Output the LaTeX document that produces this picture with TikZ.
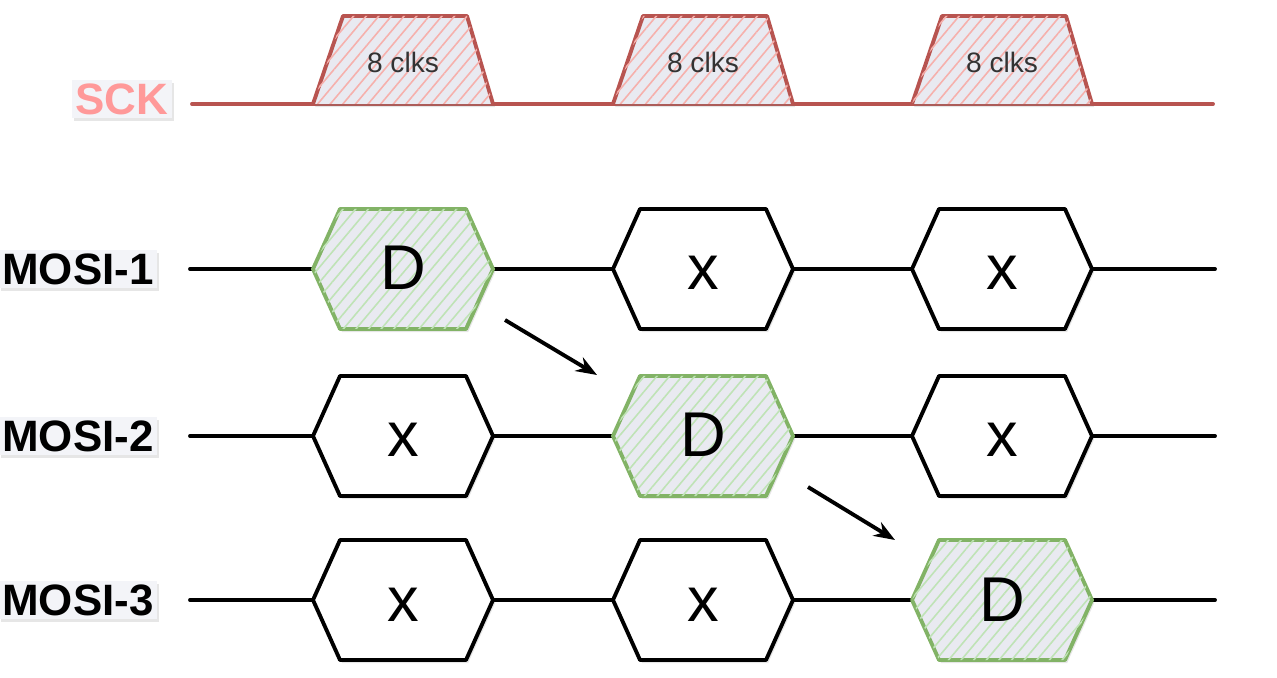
\documentclass[tikz,border=0pt]{standalone}
\usepackage{fontspec}
\setmainfont{Liberation Sans}
\usetikzlibrary{positioning,patterns.meta,shadows,arrows.meta}

\definecolor{sckred}{HTML}{B85450}
\definecolor{sckhatch}{HTML}{F6B0AC}
\definecolor{sckpink}{HTML}{FF9999}
\definecolor{dgreen}{HTML}{82B366}
\definecolor{dhatch}{HTML}{BFE3B6}
\definecolor{tint}{HTML}{E9EAF1}
\definecolor{lblbg}{HTML}{F3F4F8}

\tikzset{
  wire/.style={line width=2.2pt, line cap=round, line join=round},
  soft/.style={drop shadow={opacity=0.2, shadow xshift=1.2pt, shadow yshift=-1.8pt}},
  lbl/.style={font=\fontsize{25}{25}\selectfont\bfseries, fill=lblbg, inner sep=2pt, soft},
  clk/.style={font=\fontsize{16}{16}\selectfont, text=black!80},
  burst/.style={wire, draw=sckred, fill=tint, soft,
    postaction={pattern={Lines[angle=50, distance=5.5pt, line width=0.9pt]}, pattern color=sckhatch}},
  xcell/.style={wire, draw=black, fill=white, soft},
  dcell/.style={wire, draw=dgreen, fill=tint, soft,
    postaction={pattern={Lines[angle=50, distance=5.5pt, line width=0.9pt]}, pattern color=dhatch}},
  celltxt/.style={font=\fontsize{36}{36}\selectfont, anchor=base, inner sep=0pt},
  hop/.style={line width=2.2pt, -{Stealth[length=12pt, width=9pt]}},
}

% #1 name, #2 left x, #3 row y, #4 style, #5 text
\newcommand{\hexcell}[5]{%
  \draw[#4] (#2,#3) -- ++(27,-60) -- ++(126,0) -- ++(27,60) -- ++(-27,60) -- ++(-126,0) -- cycle;
  \node[celltxt] (#1) at (#2+90,#3+21) {#5};
}

\begin{document}
\begin{tikzpicture}[x=0.02cm, y=-0.02cm]
\useasboundingbox (0,0) rectangle (1277,678);

% clock
\node[lbl, text=sckpink] (sck) at (122,99) {SCK};
\coordinate (sck s) at (192,104);
\coordinate (sck e) at (1213,104);
\draw[wire, sckred] (sck s) -- (sck e);
\foreach \i/\xx in {1/313,2/613,3/912} {
  \draw[burst] (\xx,104) -- ++(30,-88) -- ++(124,0) -- ++(26,88);
  \node[clk] (clk\i) at (\xx+90,62) {8 clks};
}

% data lines
\foreach \r/\yy in {1/269,2/436,3/600} {
  \node[lbl] (mosi\r) at (78,\yy) {MOSI-\r};
  \coordinate (w\r s) at (190,\yy);
  \coordinate (w\r e) at (1215,\yy);
  \draw[wire] (w\r s) -- (w\r e);
}

\foreach \r/\c/\yy/\xx in {1/2/269/613, 1/3/269/912, 2/1/436/313, 2/3/436/912, 3/1/600/313, 3/2/600/613} {
  \hexcell{c\r\c}{\xx}{\yy}{xcell}{x}
}
\foreach \r/\yy/\xx in {1/269/313, 2/436/613, 3/600/912} {
  \hexcell{d\r}{\xx}{\yy}{dcell}{D}
}

% hand-over arrows
\coordinate (h1 s) at (505,320);
\coordinate (h1 e) at (597,375);
\coordinate (h2 s) at (808,487);
\coordinate (h2 e) at (895,540);
\draw[hop] (h1 s) -- (h1 e);
\draw[hop] (h2 s) -- (h2 e);
\end{tikzpicture}
\end{document}
